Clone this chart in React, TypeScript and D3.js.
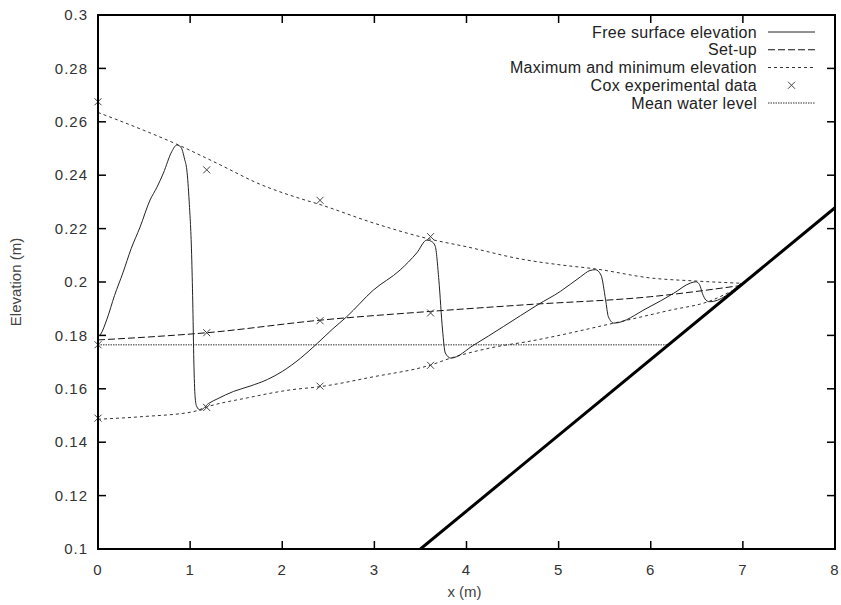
import React, { useEffect, useRef } from 'react';
import * as d3 from 'd3';

// values: [x (m), elevation (m)]
const freeSurface: [number, number][] = [
  [0, 0.1795], [0.03, 0.1805], [0.094, 0.1858], [0.18, 0.195], [0.27, 0.2034], [0.36, 0.2125],
  [0.457, 0.2206], [0.565, 0.2307], [0.64, 0.2355], [0.71, 0.2408], [0.8, 0.2488], [0.855, 0.2513],
  [0.9, 0.2505], [0.94, 0.246], [0.964, 0.242], [0.99, 0.23], [1.018, 0.2082], [1.03, 0.19],
  [1.04, 0.1708], [1.054, 0.157], [1.07, 0.1535], [1.11, 0.152], [1.2, 0.1545], [1.3, 0.1563],
  [1.47, 0.159], [1.65, 0.161], [1.84, 0.1635], [2.0, 0.1665], [2.2, 0.1715], [2.38, 0.177],
  [2.55, 0.1825], [2.7, 0.187], [2.99, 0.197], [3.28, 0.2045], [3.46, 0.2109], [3.57, 0.2157],
  [3.62, 0.2152], [3.66, 0.2135], [3.7, 0.2007], [3.74, 0.182], [3.77, 0.1734], [3.83, 0.1715],
  [4.08, 0.1764], [4.4, 0.1833], [4.77, 0.1914], [5.02, 0.1965], [5.24, 0.202], [5.34, 0.2043],
  [5.4, 0.2046], [5.46, 0.2026], [5.51, 0.1933], [5.54, 0.187], [5.6, 0.1846], [5.96, 0.1902],
  [6.25, 0.1958], [6.43, 0.1996], [6.49, 0.2001], [6.53, 0.199], [6.56, 0.1958], [6.6, 0.1932],
  [6.64, 0.1926], [6.98, 0.1995],
];

const setUp: [number, number][] = [
  [0, 0.1783], [0.5, 0.1793], [1.18, 0.181], [2.41, 0.1857], [3.61, 0.189],
  [4.65, 0.1915], [6.0, 0.1945], [7.0, 0.1988],
];

const maxElevation: [number, number][] = [
  [0, 0.2635], [0.49, 0.2569], [0.855, 0.2516], [1.29, 0.2445], [1.76, 0.2366], [2.2, 0.2312],
  [2.41, 0.229], [2.99, 0.2221], [3.61, 0.216], [4.0, 0.2132], [4.59, 0.2086], [5.02, 0.2064],
  [5.4, 0.2049], [6.0, 0.2015], [6.47, 0.2004], [7.0, 0.1995],
];

const minElevation: [number, number][] = [
  [0, 0.1486], [0.49, 0.1496], [1.03, 0.1514], [1.18, 0.1532], [1.62, 0.1566], [2.09, 0.1596],
  [2.41, 0.1608], [2.99, 0.1645], [3.61, 0.1689], [3.83, 0.1715], [4.33, 0.1758], [4.65, 0.1776],
  [5.6, 0.1846], [6.22, 0.1895], [6.62, 0.1926], [6.98, 0.1985],
];

const coxData: [number, number][] = [
  [0, 0.2675], [0, 0.1765], [0, 0.149],
  [1.18, 0.242], [1.18, 0.181], [1.18, 0.153],
  [2.41, 0.2306], [2.41, 0.1855], [2.41, 0.161],
  [3.61, 0.217], [3.61, 0.1884], [3.61, 0.1688],
];

const meanWaterLevel: [number, number][] = [[0, 0.1765], [6.19, 0.1765]];

const beach: [number, number][] = [[3.5, 0.1], [8, 0.2278]];

const xTicks = [0, 1, 2, 3, 4, 5, 6, 7, 8];
const yTicks = [0.1, 0.12, 0.14, 0.16, 0.18, 0.2, 0.22, 0.24, 0.26, 0.28, 0.3];

const legendLabels = [
  'Free surface elevation',
  'Set-up',
  'Maximum and minimum elevation',
  'Cox experimental data',
  'Mean water level',
];

const FONT = '"Liberation Sans", Arial, sans-serif';

const App = () => {
  const chartRef = useRef<HTMLDivElement>(null);

  useEffect(() => {
    document.body.style.margin = '0';
    const width = 841;
    const height = 605;
    const margin = { top: 15, right: 6, bottom: 56, left: 98 };
    const w = width - margin.left - margin.right;
    const h = height - margin.top - margin.bottom;

    const root = d3.select(chartRef.current);
    root.selectAll('*').remove();

    const svg = root.append('svg')
      .attr('width', width)
      .attr('height', height)
      .style('display', 'block')
      .style('background', '#fff');

    const g = svg.append('g').attr('transform', `translate(${margin.left},${margin.top})`);

    const x = d3.scaleLinear().domain([0, 8]).range([0, w]);
    const y = d3.scaleLinear().domain([0.1, 0.3]).range([h, 0]);

    g.append('clipPath').attr('id', 'plot-clip')
      .append('rect').attr('width', w).attr('height', h);

    // ticks on all four sides, pointing inward
    const tickLen = 8;
    const fmt = (d: number) => String(+d.toFixed(2));

    const ax = g.append('g').attr('stroke', '#000').attr('stroke-width', 1.5);
    xTicks.forEach(t => {
      ax.append('line').attr('x1', x(t)).attr('x2', x(t)).attr('y1', h).attr('y2', h - tickLen);
      ax.append('line').attr('x1', x(t)).attr('x2', x(t)).attr('y1', 0).attr('y2', tickLen);
    });
    yTicks.forEach(t => {
      ax.append('line').attr('x1', 0).attr('x2', tickLen).attr('y1', y(t)).attr('y2', y(t));
      ax.append('line').attr('x1', w).attr('x2', w - tickLen).attr('y1', y(t)).attr('y2', y(t));
    });

    g.selectAll('.xlab').data(xTicks).enter().append('text')
      .attr('x', d => x(d)).attr('y', h + 26)
      .attr('text-anchor', 'middle')
      .style('font-family', FONT).style('font-size', '15px').style('letter-spacing', '1px')
      .attr('fill', '#333')
      .text(d => fmt(d));

    g.selectAll('.ylab').data(yTicks).enter().append('text')
      .attr('x', -10).attr('y', d => y(d)).attr('dy', '0.35em')
      .attr('text-anchor', 'end')
      .style('font-family', FONT).style('font-size', '15px').style('letter-spacing', '1px')
      .attr('fill', '#333')
      .text(d => fmt(d));

    g.append('text')
      .attr('x', w / 2 - 2).attr('y', h + 48)
      .attr('text-anchor', 'middle')
      .style('font-family', FONT).style('font-size', '15px')
      .attr('fill', '#444')
      .text('x (m)');

    g.append('text')
      .attr('transform', `translate(${-77},${h / 2}) rotate(-90)`)
      .attr('text-anchor', 'middle')
      .style('font-family', FONT).style('font-size', '15px')
      .attr('fill', '#444')
      .text('Elevation (m)');

    const line = d3.line<[number, number]>()
      .x(d => x(d[0]))
      .y(d => y(d[1]))
      .curve(d3.curveMonotoneX);

    const plot = g.append('g').attr('clip-path', 'url(#plot-clip)');

    plot.append('path').datum(meanWaterLevel)
      .attr('d', line).attr('fill', 'none')
      .attr('stroke', '#777').attr('stroke-width', 1.5).attr('stroke-dasharray', '1.5,1');

    [maxElevation, minElevation].forEach(s => {
      plot.append('path').datum(s)
        .attr('d', line).attr('fill', 'none')
        .attr('stroke', '#333').attr('stroke-width', 1).attr('stroke-dasharray', '3,3');
    });

    plot.append('path').datum(setUp)
      .attr('d', line).attr('fill', 'none')
      .attr('stroke', '#111').attr('stroke-width', 1).attr('stroke-dasharray', '7,3');

    plot.append('path').datum(freeSurface)
      .attr('d', line).attr('fill', 'none')
      .attr('stroke', '#222').attr('stroke-width', 1);

    plot.append('path').datum(beach)
      .attr('d', d3.line<[number, number]>().x(d => x(d[0])).y(d => y(d[1])))
      .attr('fill', 'none').attr('stroke', '#000').attr('stroke-width', 3);

    const cross = (sel: d3.Selection<SVGGElement, unknown, null, undefined>, cx: number, cy: number) => {
      const s = 3.5;
      sel.append('path')
        .attr('d', `M${cx - s},${cy - s}L${cx + s},${cy + s}M${cx - s},${cy + s}L${cx + s},${cy - s}`)
        .attr('stroke', '#444').attr('stroke-width', 1).attr('fill', 'none');
    };

    const marks = g.append('g');
    coxData.forEach(d => cross(marks, x(d[0]), y(d[1])));

    // frame
    g.append('rect').attr('width', w).attr('height', h)
      .attr('fill', 'none').attr('stroke', '#000').attr('stroke-width', 2);

    // legend
    const legend = g.append('g').attr('transform', `translate(${757 - margin.left},${32 - margin.top})`);
    const rowH = 17.75;
    const sx0 = 11;
    const sx1 = 58;
    legendLabels.forEach((label, i) => {
      const ry = i * rowH;
      legend.append('text')
        .attr('x', 0).attr('y', ry).attr('dy', '0.35em')
        .attr('text-anchor', 'end')
        .style('font-family', FONT).style('font-size', '16px').style('letter-spacing', '0.3px')
        .attr('fill', '#222')
        .text(label);
    });
    const sample = (i: number, dash: string | null, color: string, sw: number) => {
      const l = legend.append('line')
        .attr('x1', sx0).attr('x2', sx1).attr('y1', i * rowH).attr('y2', i * rowH)
        .attr('stroke', color).attr('stroke-width', sw);
      if (dash) l.attr('stroke-dasharray', dash);
    };
    sample(0, null, '#222', 1);
    sample(1, '7,3', '#111', 1);
    sample(2, '3,3', '#333', 1);
    cross(legend as any, (sx0 + sx1) / 2, 3 * rowH);
    sample(4, '1.5,1', '#777', 1.5);

    return () => {
      d3.select(chartRef.current).selectAll('*').remove();
    };
  }, []);

  return <div ref={chartRef}></div>;
};

export default App;
